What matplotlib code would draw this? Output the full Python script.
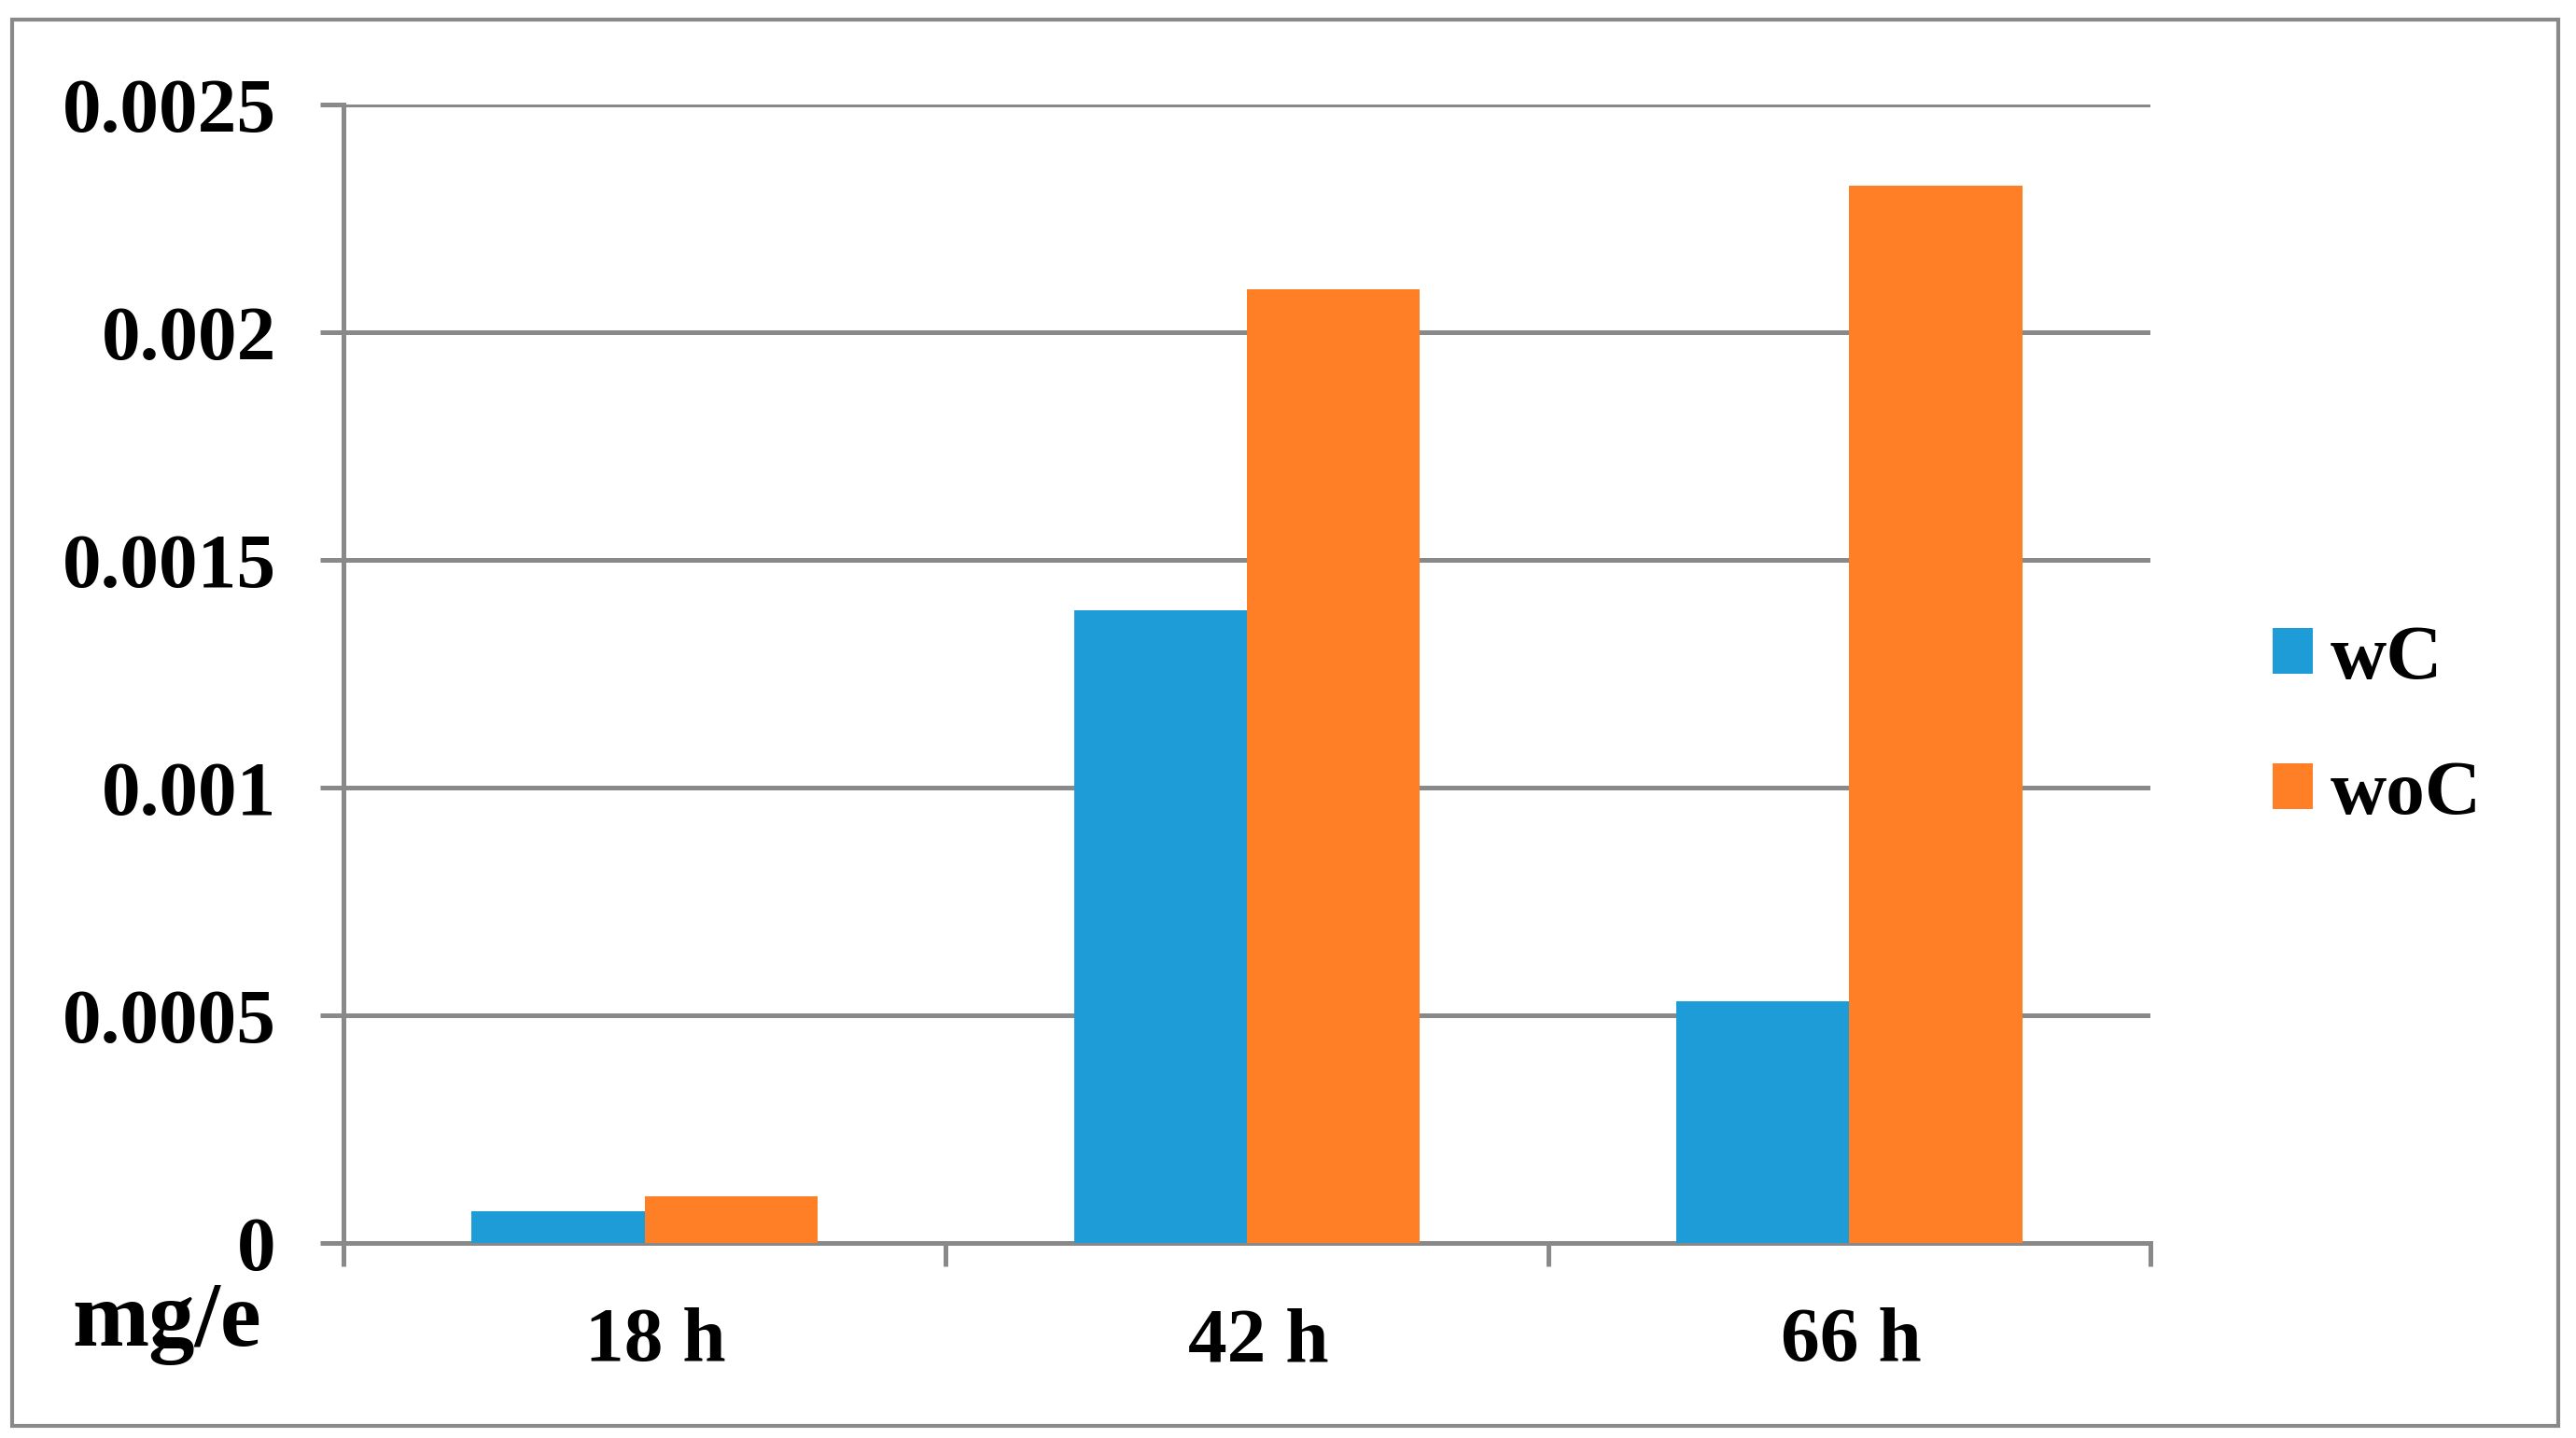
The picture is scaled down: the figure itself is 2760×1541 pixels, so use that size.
import matplotlib.pyplot as plt
import matplotlib.transforms as mtransforms
import numpy as np
from matplotlib.patches import Rectangle

plt.rcParams['font.family'] = ['Liberation Serif', 'DejaVu Serif']
plt.rcParams['font.weight'] = 'bold'

categories = ['18 h', '42 h', '66 h']
wC = [0.00007, 0.00139, 0.00053]
woC = [0.000102, 0.002094, 0.002322]
y_ticks = [0, 0.0005, 0.001, 0.0015, 0.002, 0.0025]
y_labels = ['0', '0.0005', '0.001', '0.0015', '0.002', '0.0025']

blue = '#1E9CD8'
orange = '#FF7F27'
gray = '#898989'

fig = plt.figure(figsize=(27.6, 15.41), dpi=100)
ax = fig.add_axes([368 / 2760, 1 - 1332 / 1541, (2304 - 368) / 2760, (1332 - 112) / 1541])

x = np.arange(len(categories))
w = 0.287
ax.bar(x - w / 2, wC, w, color=blue, label='wC', zorder=3)
ax.bar(x + w / 2, woC, w, color=orange, label='woC', zorder=3)

ax.set_xlim(-0.5, 2.5)
ax.set_ylim(0, 0.0025)

ax.set_yticks(y_ticks)
ax.set_yticklabels(y_labels, fontsize=60, fontweight='bold')
ax.tick_params(axis='y', length=18, width=3.6, color=gray, pad=34)
ax.yaxis.grid(True, color=gray, linewidth=3.6, zorder=0)
ax.set_axisbelow(True)

ax.set_xticks(x)
ax.set_xticklabels(categories, fontsize=60, fontweight='bold')
ax.set_xticks([-0.5, 0.5, 1.5, 2.5], minor=True)
ax.tick_params(axis='x', which='major', length=0, pad=50)
ax.tick_params(axis='x', which='minor', length=18, width=3.6, color=gray)

# small nudges of the category labels, as in the original
for lab, dx in zip(ax.get_xticklabels(), [0.12, 0.12, 0.02]):
    lab.set_transform(lab.get_transform() + mtransforms.ScaledTranslation(dx, 0, fig.dpi_scale_trans))

for side in ['top', 'right']:
    ax.spines[side].set_visible(False)
for side in ['left', 'bottom']:
    ax.spines[side].set_color(gray)
    ax.spines[side].set_linewidth(3.6)

fig.text(77 / 2760, 1 - 1442 / 1541, 'mg/e', fontsize=71, fontweight='bold',
         ha='left', va='baseline')

ax.legend(loc='center left', bbox_to_anchor=(2435 / 2760, 1 - 780 / 1541),
          bbox_transform=fig.transFigure, frameon=False,
          prop={'weight': 'bold', 'size': 60}, handlelength=0.52, handleheight=0.52,
          handletextpad=0.22, labelspacing=0.84, borderpad=0, borderaxespad=0)

# outer frame
fig.patches.append(Rectangle((13 / 2760, 1 - 1528 / 1541), (2741 - 13) / 2760, (1528 - 21) / 1541,
                             transform=fig.transFigure, fill=False, edgecolor=gray,
                             linewidth=3, zorder=0))

fig.savefig('out.png', dpi=100)
